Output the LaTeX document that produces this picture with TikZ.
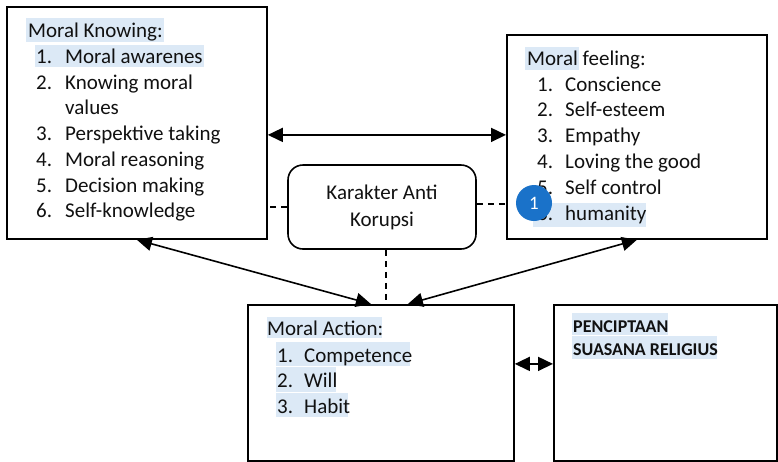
\documentclass[tikz,border=0pt]{standalone}
\usepackage{fontspec}
\setmainfont{Carlito}
\usetikzlibrary{arrows.meta}
\definecolor{hl}{HTML}{DCE9F6}
\definecolor{txt}{HTML}{111111}
\definecolor{cblue}{HTML}{1A72C9}
\begin{document}
\begin{tikzpicture}[x=1pt,y=-1pt,
  box/.style={draw=black, line width=1.8pt, inner sep=0pt, anchor=north west},
  kbox/.style={draw=black, line width=1.6pt, rounded corners=15pt, inner sep=0pt,
    minimum width=188pt, minimum height=84pt, align=center, text=txt,
    font=\fontsize{21}{27}\selectfont},
  tl/.style={anchor=base west, inner sep=0pt, text=txt, font=\fontsize{21}{25}\selectfont},
  bl/.style={anchor=base west, inner sep=0pt, text=txt, font=\fontsize{18}{21}\selectfont\bfseries},
  hlbox/.style={fill=hl, draw=none},
  arr/.style={line width=1.6pt, {Triangle[length=15pt,width=14pt]}-{Triangle[length=15pt,width=14pt]}},
  dsh/.style={line width=1.5pt, dash pattern=on 6pt off 5pt},
  badge/.style={circle, fill=cblue, text=white, inner sep=0pt, minimum size=36pt,
    font=\fontsize{19}{20}\selectfont}
]
\useasboundingbox (0,0) rectangle (778,461);
\fill[white] (0,0) rectangle (778,461);

% boxes
\node[box, minimum width=260pt, minimum height=232pt] (know) at (6,6) {};
\node[box, minimum width=260pt, minimum height=204pt] (feel) at (506,34) {};
\node[kbox] (kak) at (382,207) {Karakter Anti\\Korupsi};
\node[box, minimum width=266pt, minimum height=156pt] (act) at (247,304) {};
\node[box, minimum width=223pt, minimum height=156pt] (pen) at (553,304) {};

% highlights
\fill[hlbox] (26,18) rectangle (164,42);
\fill[hlbox] (35,45) rectangle (204,67);
\fill[hlbox] (525,47) rectangle (579,70);
\fill[hlbox] (533,203) rectangle (646,227);
\fill[hlbox] (267,317) rectangle (382,338);
\fill[hlbox] (276,342) rectangle (410,366);
\fill[hlbox] (276,367) rectangle (336,392);
\fill[hlbox] (276,393) rectangle (348,417);
\fill[hlbox] (572,313) rectangle (668,335);
\fill[hlbox] (572,336) rectangle (717,359);

% Moral Knowing
\node[tl] (k0) at (28,37) {Moral Knowing:};
\node[tl] (k1n) at (36,63) {1.};  \node[tl] (k1) at (65,63) {Moral awarenes};
\node[tl] (k2n) at (36,89) {2.};  \node[tl] (k2) at (65,89) {Knowing moral};
\node[tl] (k2b) at (65,114) {values};
\node[tl] (k3n) at (36,140) {3.}; \node[tl] (k3) at (65,140) {Perspektive taking};
\node[tl] (k4n) at (36,166) {4.}; \node[tl] (k4) at (65,166) {Moral reasoning};
\node[tl] (k5n) at (36,192) {5.}; \node[tl] (k5) at (65,192) {Decision making};
\node[tl] (k6n) at (36,217) {6.}; \node[tl] (k6) at (65,217) {Self-knowledge};

% Moral feeling
\node[tl] (f0) at (527,65) {Moral feeling:};
\node[tl] (f1n) at (537,91) {1.};  \node[tl] (f1) at (565,91) {Conscience};
\node[tl] (f2n) at (537,116) {2.}; \node[tl] (f2) at (565,116) {Self-esteem};
\node[tl] (f3n) at (537,142) {3.}; \node[tl] (f3) at (565,142) {Empathy};
\node[tl] (f4n) at (537,168) {4.}; \node[tl] (f4) at (565,168) {Loving the good};
\node[tl] (f5n) at (537,194) {5.}; \node[tl] (f5) at (565,194) {Self control};
\node[tl] (f6n) at (537,220) {6.}; \node[tl] (f6) at (565,220) {humanity};

% Moral Action
\node[tl] (a0) at (267,335) {Moral Action:};
\node[tl] (a1n) at (277,362) {1.}; \node[tl] (a1) at (304,362) {Competence};
\node[tl] (a2n) at (277,387) {2.}; \node[tl] (a2) at (304,387) {Will};
\node[tl] (a3n) at (277,413) {3.}; \node[tl] (a3) at (304,413) {Habit};

% Penciptaan
\node[bl] (p1) at (573,332) {PENCIPTAAN};
\node[bl] (p2) at (573,355) {SUASANA RELIGIUS};

% connectors
\draw[arr] ([yshift=-12pt]know.east) -- ([yshift=-12pt]know.east -| feel.west);
\draw[arr] (know.south) -- ([xshift=-10pt]act.north);
\draw[arr] (feel.south) -- ([xshift=27pt]act.north);
\draw[arr] ([yshift=19pt]act.east) -- ([yshift=19pt]act.east -| pen.west);
\draw[dsh] (kak.west) -- (kak.west -| know.east);
\draw[dsh] ([yshift=3pt]kak.east) -- ([yshift=3pt]kak.east -| feel.west);
\draw[dsh] ([xshift=4pt]kak.south) -- ([xshift=4pt]kak.south |- act.north);

% comment badge
\node[badge] (c1) at (534,203) {1};
\end{tikzpicture}
\end{document}
